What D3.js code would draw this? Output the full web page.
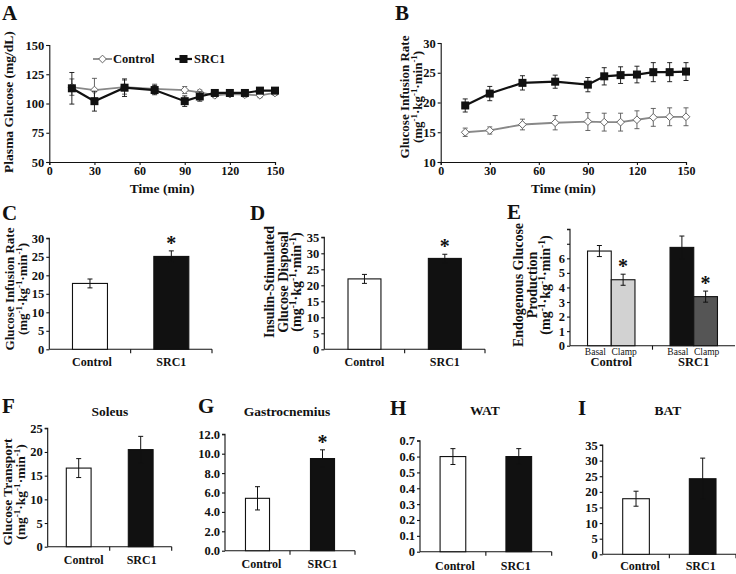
<!DOCTYPE html>
<html><head><meta charset="utf-8">
<script src="https://cdn.jsdelivr.net/npm/d3@7"></script>
<style>body{margin:0;background:#fff}svg{display:block}text{font-family:"Liberation Serif","Times New Roman",serif;font-weight:bold;fill:#111}</style>
</head><body>
<svg id="c" width="736" height="574"></svg>
<script>
// ---------- DATA ----------
const times = [15,30,50,70,90,100,110,120,130,140,150];
const plasmaControl    = [114,111.5,114,112.5,111.5,109.5,107,108,107.5,107,109];
const plasmaControlErr = [7,10,6,4,3,2,2,2,2,2,2];
const plasmaSRC1       = [113,102,113.5,111.5,102,106,109,109,109,111,111];
const plasmaSRC1Err    = [13.5,8.5,7.5,4,4.5,4,2,2,2,2,2];
const girTimeControl    = [15.0,15.3,16.3,16.6,16.8,16.7,16.7,17.1,17.5,17.6,17.6];
const girTimeControlErr = [0.7,0.6,0.9,1.2,1.5,1.5,1.5,1.5,1.5,1.5,1.5];
const girTimeSRC1       = [19.5,21.5,23.3,23.5,23.0,24.4,24.6,24.7,25.1,25.1,25.2];
const girTimeSRC1Err    = [1.1,1.2,1.2,1.1,1.2,1.45,1.4,1.4,1.6,1.6,1.5];
const groups = ["Control","SRC1"];
const girMean = [17.8,25.1],  girErr = [1.2,1.5];
const disposalMean = [22.0,28.4], disposalErr = [1.4,1.3];
const egpPhases = ["Basal","Clamp"];
const egpBasal = [6.5,6.75], egpBasalErr = [0.38,0.78];
const egpClamp = [4.53,3.37], egpClampErr = [0.38,0.38];
const soleusMean = [16.6,20.5], soleusErr = [2.0,2.8];
const gastroMean = [5.4,9.5], gastroErr = [1.2,0.9];
const watMean = [0.6,0.6], watErr = [0.05,0.05];
const batMean = [17.8,24.2], batErr = [2.4,6.6];

const svg = d3.select("#c");
const TICK = 12.5;

function letter(t,x,y){ svg.append("text").attr("x",x).attr("y",y).attr("font-size","21px").text(t); }
function units(sel, size){
  const s = size*0.68;
  sel.append("tspan").text("(mg");
  sel.append("tspan").attr("dy",-size*0.35).attr("font-size",s+"px").text("-1");
  sel.append("tspan").attr("dy",size*0.35).text("·kg");
  sel.append("tspan").attr("dy",-size*0.35).attr("font-size",s+"px").text("-1");
  sel.append("tspan").attr("dy",size*0.35).text("·min");
  sel.append("tspan").attr("dy",-size*0.35).attr("font-size",s+"px").text("-1");
  sel.append("tspan").attr("dy",size*0.35).text(")");
}
function ytitle(lines, xs, cy, size){
  lines.forEach((l,i)=>{
    const t = svg.append("text").attr("transform",`translate(${xs[i]},${cy}) rotate(-90)`)
      .attr("text-anchor","middle").attr("font-size",size+"px");
    if(l==="UNITS") units(t,size); else t.text(l);
  });
}
function styleAxis(g, fs){
  g.selectAll("path,line").attr("stroke","#111").attr("stroke-width",1.1);
  g.selectAll("text").attr("font-size",fs+"px").attr("fill","#111");
}
function star(x,yTop){
  svg.append("text").attr("x",x).attr("y",yTop-1).attr("text-anchor","middle").attr("font-size","20px").text("*");
}

// ---------- LINE PANELS ----------
function linePanel(cfg){
  const x = d3.scaleLinear().domain([0,150]).range(cfg.xr);
  const y = d3.scaleLinear().domain(cfg.yd).range(cfg.yr);
  const gy = svg.append("g").attr("transform",`translate(${cfg.xr[0]},0)`)
    .call(d3.axisLeft(y).tickValues(cfg.yt).tickSize(3).tickPadding(2));
  styleAxis(gy,TICK);
  const gx = svg.append("g").attr("transform",`translate(0,${cfg.yr[0]})`)
    .call(d3.axisBottom(x).tickValues([0,30,60,90,120,150]).tickSize(3).tickPadding(1));
  styleAxis(gx,12);
  const series = [
    {v:cfg.c, e:cfg.ce, color:"#888", ecolor:"#555", w:1.8, mk:"diamond"},
    {v:cfg.s, e:cfg.se, color:"#111", ecolor:"#111", w:2.2, mk:"square"}
  ];
  series.forEach(sr=>{
    const g = svg.append("g");
    times.forEach((t,i)=>{
      const cx=x(t), y1=y(sr.v[i]+sr.e[i]), y2=y(sr.v[i]-sr.e[i]);
      g.append("line").attr("x1",cx).attr("x2",cx).attr("y1",y1).attr("y2",y2).attr("stroke",sr.ecolor).attr("stroke-width",0.9);
      [y1,y2].forEach(yy=>g.append("line").attr("x1",cx-2.5).attr("x2",cx+2.5).attr("y1",yy).attr("y2",yy).attr("stroke",sr.ecolor).attr("stroke-width",0.9));
    });
    g.append("path").datum(sr.v).attr("fill","none").attr("stroke",sr.color).attr("stroke-width",sr.w)
      .attr("d",d3.line().x((d,i)=>x(times[i])).y(d=>y(d)));
    times.forEach((t,i)=>{
      if(sr.mk==="square") g.append("rect").attr("x",x(t)-4).attr("y",y(sr.v[i])-4).attr("width",8).attr("height",8).attr("fill","#111");
      else g.append("path").attr("d",d3.symbol(d3.symbolDiamond2,38)()).attr("transform",`translate(${x(t)},${y(sr.v[i])})`).attr("fill","#fff").attr("stroke","#666").attr("stroke-width",1);
    });
  });
  svg.append("text").attr("x",(cfg.xr[0]+cfg.xr[1])/2).attr("y",cfg.yr[0]+30.5).attr("text-anchor","middle").attr("font-size","13.5px").text("Time (min)");
}

letter("A",2,20);
linePanel({xr:[49.3,275], yd:[50,150], yr:[162,45], yt:[50,75,100,125,150],
  c:plasmaControl, ce:plasmaControlErr, s:plasmaSRC1, se:plasmaSRC1Err});
ytitle(["Plasma Glucose (mg/dL)"],[13],102,13.5);
// legend
svg.append("line").attr("x1",93).attr("x2",112).attr("y1",59).attr("y2",59).attr("stroke","#888").attr("stroke-width",1.8);
svg.append("path").attr("d",d3.symbol(d3.symbolDiamond2,38)()).attr("transform","translate(102.5,59)").attr("fill","#fff").attr("stroke","#666");
svg.append("text").attr("x",113).attr("y",63).attr("font-size","12.5px").text("Control");
svg.append("line").attr("x1",175).attr("x2",192).attr("y1",59).attr("y2",59).attr("stroke","#111").attr("stroke-width",2.2);
svg.append("rect").attr("x",179.5).attr("y",55).attr("width",8).attr("height",8).attr("fill","#111");
svg.append("text").attr("x",194).attr("y",63).attr("font-size","12.5px").text("SRC1");

letter("B",395,20);
linePanel({xr:[440.7,686], yd:[10,30], yr:[162,43], yt:[10,15,20,25,30],
  c:girTimeControl, ce:girTimeControlErr, s:girTimeSRC1, se:girTimeSRC1Err});
ytitle(["Glucose Infusion Rate","UNITS"],[409,422],97,13);

// ---------- BAR PANELS ----------
function barPanel(cfg){
  const y = d3.scaleLinear().domain(cfg.yd).range(cfg.yr);
  const x = d3.scaleBand().domain(groups).range(cfg.xr).paddingInner(cfg.p).paddingOuter(cfg.p/2);
  const gy = svg.append("g").attr("transform",`translate(${cfg.xr[0]},0)`)
    .call(d3.axisLeft(y).tickValues(cfg.yt).tickFormat(cfg.fmt||(d=>d)).tickSize(3).tickPadding(2));
  gy.select("path").attr("d",`M-3,${cfg.yr[1]}H0V${cfg.yr[0]}`);
  styleAxis(gy,TICK);
  const y0 = cfg.yr[0];
  const ax = svg.append("g");
  ax.append("line").attr("x1",cfg.xr[0]).attr("x2",cfg.xr[1]).attr("y1",y0).attr("y2",y0).attr("stroke","#111").attr("stroke-width",1.1);
  [(cfg.xr[0]+cfg.xr[1])/2, cfg.xr[1]].forEach(xx=>ax.append("line").attr("x1",xx).attr("x2",xx).attr("y1",y0).attr("y2",y0+4).attr("stroke","#111").attr("stroke-width",1.1));
  const colors = ["#fff","#111"];
  groups.forEach((gname,i)=>{
    const bx = x(gname), bw = x.bandwidth(), v = cfg.m[i], e = cfg.e[i];
    svg.append("rect").attr("x",bx).attr("y",y(v)).attr("width",bw).attr("height",y0-y(v)).attr("fill",colors[i]).attr("stroke","#111").attr("stroke-width",1.1);
    const cx = bx+bw/2;
    svg.append("line").attr("x1",cx).attr("x2",cx).attr("y1",y(v+e)).attr("y2",y(v-e)).attr("stroke","#111").attr("stroke-width",1);
    [v+e,v-e].forEach(vv=>svg.append("line").attr("x1",cx-2.5).attr("x2",cx+2.5).attr("y1",y(vv)).attr("y2",y(vv)).attr("stroke","#111").attr("stroke-width",1));
    svg.append("text").attr("x",cx+cfg.lshift[i]).attr("y",cfg.ly).attr("text-anchor","middle").attr("font-size","12px").text(gname);
    if(cfg.star && cfg.star[i]) star(cx, y(v+e));
  });
  if(cfg.title) svg.append("text").attr("x",cfg.tx).attr("y",cfg.ty).attr("text-anchor","middle").attr("font-size","13.5px").text(cfg.title);
}

letter("C",2,220);
barPanel({xr:[49.3,212], yd:[0,30], yr:[349.3,238.3], yt:[0,5,10,15,20,25,30], p:0.57,
  m:girMean, e:girErr, ly:366, lshift:[2,0], star:[false,true]});
ytitle(["Glucose Infusion Rate","UNITS"],[14,27],289,13);

letter("D",250,220);
barPanel({xr:[324.3,485], yd:[0,35], yr:[349.3,237.3], yt:[0,5,10,15,20,25,30,35], p:0.59,
  m:disposalMean, e:disposalErr, ly:366, lshift:[0,0], star:[false,true]});
ytitle(["Insulin-Stimulated","Glucose Disposal","UNITS"],[274,288,301],282,14);

// E: grouped bars
(function(){
  const xr=[570,735], yr=[345.7,229.2];
  const y = d3.scaleLinear().domain([0,8]).range(yr);
  const x = d3.scaleBand().domain(groups).range(xr).paddingInner(0.425).paddingOuter(0.2125);
  const xs = d3.scaleBand().domain(egpPhases).range([0,x.bandwidth()]);
  const gy = svg.append("g").attr("transform",`translate(${xr[0]},0)`)
    .call(d3.axisLeft(y).tickValues([0,1,2,3,4,5,6,7,8]).tickFormat(d=>d<=6?d:"").tickSize(3).tickPadding(2));
  gy.select("path").attr("d",`M-3,${yr[1]}H0V${yr[0]}`);
  styleAxis(gy,TICK);
  const y0=yr[0];
  svg.append("line").attr("x1",xr[0]).attr("x2",xr[1]).attr("y1",y0).attr("y2",y0).attr("stroke","#111").attr("stroke-width",1.1);
  svg.append("line").attr("x1",(xr[0]+xr[1])/2).attr("x2",(xr[0]+xr[1])/2).attr("y1",y0).attr("y2",y0+4).attr("stroke","#111").attr("stroke-width",1.1);
  const fills = {Control:{Basal:"#fff",Clamp:"#d2d2d2"}, SRC1:{Basal:"#111",Clamp:"#555"}};
  const phShift = {Basal:-4, Clamp:1};
  groups.forEach((gname,i)=>{
    const vals = {Basal:[egpBasal[i],egpBasalErr[i]], Clamp:[egpClamp[i],egpClampErr[i]]};
    egpPhases.forEach(ph=>{
      const bx = x(gname)+xs(ph), bw = xs.bandwidth(), v=vals[ph][0], e=vals[ph][1];
      svg.append("rect").attr("x",bx).attr("y",y(v)).attr("width",bw).attr("height",y0-y(v)).attr("fill",fills[gname][ph]).attr("stroke","#111").attr("stroke-width",1.1);
      const cx=bx+bw/2;
      svg.append("line").attr("x1",cx).attr("x2",cx).attr("y1",y(v+e)).attr("y2",y(v-e)).attr("stroke","#111").attr("stroke-width",1);
      [v+e,v-e].forEach(vv=>svg.append("line").attr("x1",cx-2.5).attr("x2",cx+2.5).attr("y1",y(vv)).attr("y2",y(vv)).attr("stroke","#111").attr("stroke-width",1));
      svg.append("text").attr("x",cx+phShift[ph]).attr("y",354.5).attr("text-anchor","middle").attr("font-size","9.5px").style("font-weight","normal").text(ph);
      if(ph==="Clamp") star(cx, y(v+e));
    });
    svg.append("text").attr("x",x(gname)+x.bandwidth()/2).attr("y",366).attr("text-anchor","middle").attr("font-size","12.5px").text(gname);
  });
})();
letter("E",507,219);
ytitle(["Endogenous Glucose","Production","UNITS"],[523,536.5,550],285,14);

letter("F",2,413);
barPanel({xr:[47.7,171.7], yd:[0,25], yr:[546.7,428.3], yt:[0,5,10,15,20,25], p:0.6,
  m:soleusMean, e:soleusErr, ly:564, lshift:[5,1], title:"Soleus", tx:110, ty:415.5});
ytitle(["Glucose Transport","UNITS"],[12,25],492,13.5);

letter("G",198,413);
barPanel({xr:[225,355], yd:[0,12], yr:[550.7,434.3], yt:[0,2,4,6,8,10,12], p:0.63, fmt:d3.format(".1f"),
  m:gastroMean, e:gastroErr, ly:568, lshift:[4,0], star:[false,true], title:"Gastrocnemius", tx:287, ty:415.5});

letter("H",390,415);
barPanel({xr:[420,551.7], yd:[0,0.7], yr:[551.7,440.7], yt:[0,0.1,0.2,0.3,0.4,0.5,0.6,0.7], p:0.61, fmt:d=>d===0?"0":d3.format(".1f")(d),
  m:watMean, e:watErr, ly:570, lshift:[2,-3], title:"WAT", tx:485, ty:415});

letter("I",578,415);
barPanel({xr:[602.7,736], yd:[0,35], yr:[554.3,445], yt:[0,5,10,15,20,25,30,35], p:0.6,
  m:batMean, e:batErr, ly:570, lshift:[4,-2], title:"BAT", tx:668, ty:415});
</script>
</body></html>
